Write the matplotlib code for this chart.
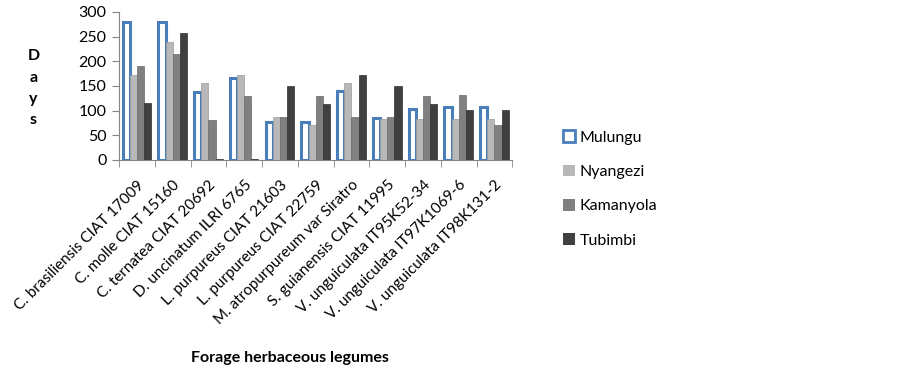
import numpy as np
import matplotlib.pyplot as plt
from matplotlib.patches import Patch

plt.rcParams['font.family'] = ['Lato', 'DejaVu Sans']

# Data
legumes = ["C. brasiliensis CIAT 17009", "C. molle CIAT 15160", "C. ternatea CIAT 20692",
           "D. uncinatum ILRI 6765", "L. purpureus CIAT 21603", "L. purpureus CIAT 22759",
           "M. atropurpureum var Siratro", "S. guianensis CIAT 11995",
           "V. unguiculata IT95K52-34", "V. unguiculata IT97K1069-6", "V. unguiculata IT98K131-2"]
mulungu = [280, 280, 138, 167, 76, 77, 140, 86, 104, 108, 108]
nyangezi = [173, 240, 156, 173, 87, 71, 156, 83, 83, 83, 83]
kamanyola = [190, 215, 81, 130, 87, 130, 88, 88, 130, 131, 70]
tubimbi = [115, 257, 2, 2, 149, 114, 173, 149, 114, 101, 101]
sites = ["Mulungu", "Nyangezi", "Kamanyola", "Tubimbi"]

fig = plt.figure(figsize=(9.02, 3.72), dpi=100)
ax = fig.add_axes([0.132, 0.570, 0.436, 0.398])

x = np.arange(len(legumes))
w = 0.2
blue = "#4a7ebb"
ax.bar(x - 1.5 * w, mulungu, w, facecolor="white", edgecolor=blue, linewidth=2.2, zorder=3)
ax.bar(x - 0.5 * w, nyangezi, w, color="#b8b8b8", edgecolor="#9a9a9a", linewidth=0.5, zorder=3)
ax.bar(x + 0.5 * w, kamanyola, w, color="#808080", edgecolor="#6a6a6a", linewidth=0.5, zorder=3)
ax.bar(x + 1.5 * w, tubimbi, w, color="#404040", edgecolor="#303030", linewidth=0.5, zorder=3)

ax.set_xlim(-0.5, len(legumes) - 0.5)
ax.set_ylim(0, 300)
ax.set_yticks(np.arange(0, 301, 50))
ax.tick_params(axis='y', labelsize=11.5, length=5, color="#868686", pad=4)

ax.set_xticks(x)
ax.set_xticklabels(legumes, rotation=45, ha='right', rotation_mode='anchor', fontsize=11)
ax.set_xticks(np.arange(-0.5, len(legumes)), minor=True)
ax.tick_params(axis='x', which='major', length=0, pad=13)
ax.tick_params(axis='x', which='minor', length=5, color="#868686")

for s in ["top", "right"]:
    ax.spines[s].set_visible(False)
for s in ["left", "bottom"]:
    ax.spines[s].set_color("#868686")

fig.text(0.037, 0.763, "D\na\ny\ns", ha='center', va='center', linespacing=1.65,
         fontsize=11.5, fontweight='bold')
fig.text(0.3215, 0.038, "Forage herbaceous legumes", ha='center', va='center',
         fontsize=11.5, fontweight='bold')

handles = [Patch(facecolor="white", edgecolor=blue, linewidth=2),
           Patch(facecolor="#b8b8b8"), Patch(facecolor="#808080"), Patch(facecolor="#404040")]
fig.legend(handles, sites, loc='center left', bbox_to_anchor=(0.615, 0.492), frameon=False,
           fontsize=11.5, handlelength=0.75, handleheight=0.75, handletextpad=0.3,
           labelspacing=1.25, borderpad=0)

fig.savefig("out.png", dpi=100)
